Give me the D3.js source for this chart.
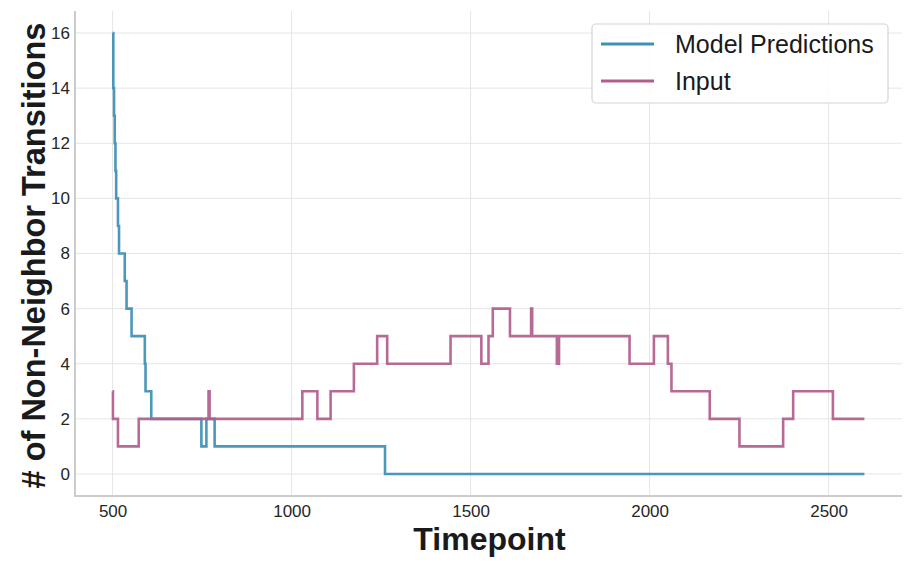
<!DOCTYPE html>
<html>
<head>
<meta charset="utf-8">
<script src="https://cdn.jsdelivr.net/npm/d3@7"></script>
<style>
  html, body { margin: 0; padding: 0; background: #ffffff; }
  svg { display: block; font-family: "Liberation Sans", Arial, sans-serif; }
</style>
</head>
<body>
<svg id="chart" width="913" height="567"></svg>
<script>
// ---- data ----
const modelT = [500, 502, 504, 506, 508, 510, 515, 518, 534, 539, 553, 590, 592, 608, 748, 762, 785, 1261, 2600];
const modelV = [16, 14, 13, 12, 11, 10, 9, 8, 7, 6, 5, 4, 3, 2, 1, 2, 1, 0, 0];
const inputT = [500, 501, 515, 573, 768, 771, 1030, 1072, 1109, 1174, 1239, 1267, 1444, 1530, 1550, 1562, 1610, 1669, 1672, 1741, 1747, 1944, 2012, 2051, 2061, 2168, 2251, 2373, 2401, 2512, 2600];
const inputV = [3, 2, 1, 2, 3, 2, 3, 2, 3, 4, 5, 4, 5, 4, 5, 6, 5, 6, 5, 4, 5, 4, 5, 4, 3, 2, 1, 2, 3, 2, 2];
const xTicks = [500, 1000, 1500, 2000, 2500];
const yTicks = [0, 2, 4, 6, 8, 10, 12, 14, 16];
const seriesNames = ["Model Predictions", "Input"];
const seriesColors = ["#3d8fb5", "#b15d8d"];

// ---- layout ----
const L = 75, R = 902, T = 11, B = 496;
const svg = d3.select("#chart");

const x = d3.scaleLinear().domain([395, 2705]).range([L, R]);
const y = d3.scaleLinear().domain([-0.8, 16.8]).range([B, T]);

// grid
const grid = svg.append("g");
grid.selectAll("line.gx").data(xTicks).join("line")
  .attr("x1", d => x(d)).attr("x2", d => x(d))
  .attr("y1", T).attr("y2", B)
  .attr("stroke", "#e5e5e5").attr("stroke-width", 1);
grid.selectAll("line.gy").data(yTicks).join("line")
  .attr("x1", L).attr("x2", R)
  .attr("y1", d => y(d)).attr("y2", d => y(d))
  .attr("stroke", "#e5e5e5").attr("stroke-width", 1);

// axes (no tick marks, only labels)
const xAxis = d3.axisBottom(x).tickValues(xTicks).tickSize(0).tickPadding(9).tickFormat(d3.format("d"));
const yAxis = d3.axisLeft(y).tickValues(yTicks).tickSize(0).tickPadding(5).tickFormat(d3.format("d"));

const gx = svg.append("g").attr("transform", `translate(0,${B})`).call(xAxis);
const gy = svg.append("g").attr("transform", `translate(${L},0)`).call(yAxis);
[gx, gy].forEach(g => {
  g.select(".domain").remove();
  g.selectAll("text").attr("font-size", 17).attr("fill", "#262626")
    .attr("font-family", "'Liberation Sans', Arial, sans-serif");
});

// spines
svg.append("line").attr("x1", L).attr("x2", L).attr("y1", T).attr("y2", B + 1)
  .attr("stroke", "#cccccc").attr("stroke-width", 2);
svg.append("line").attr("x1", L - 1).attr("x2", R).attr("y1", B).attr("y2", B)
  .attr("stroke", "#cccccc").attr("stroke-width", 2);

// lines
const line = d3.line().x(d => x(d[0])).y(d => y(d[1])).curve(d3.curveStepAfter);
const series = [
  modelT.map((t, i) => [t, modelV[i]]),
  inputT.map((t, i) => [t, inputV[i]])
];
series.forEach((s, i) => {
  svg.append("path").datum(s)
    .attr("d", line)
    .attr("fill", "none")
    .attr("stroke", seriesColors[i])
    .attr("stroke-width", 2.6)
    .attr("stroke-opacity", 0.92)
    .attr("stroke-linejoin", "miter");
});

// axis labels
svg.append("text")
  .attr("x", (L + R) / 2 + 1).attr("y", 550)
  .attr("text-anchor", "middle")
  .attr("font-size", 32).attr("font-weight", "bold").attr("fill", "#1a1a1a")
  .text("Timepoint");
svg.append("text")
  .attr("transform", `translate(45,${(T + B) / 2 + 2}) rotate(-90)`)
  .attr("text-anchor", "middle")
  .attr("font-size", 32.5).attr("font-weight", "bold").attr("fill", "#1a1a1a")
  .text("# of Non-Neighbor Transitions");

// legend
const lg = svg.append("g");
lg.append("rect").attr("x", 592).attr("y", 24).attr("width", 296).attr("height", 79)
  .attr("rx", 4).attr("fill", "#ffffff").attr("fill-opacity", 0.85)
  .attr("stroke", "#d4d4d4").attr("stroke-width", 1.2);
seriesNames.forEach((name, i) => {
  const yy = 44 + i * 37;
  lg.append("line").attr("x1", 601).attr("x2", 654).attr("y1", yy).attr("y2", yy)
    .attr("stroke", seriesColors[i]).attr("stroke-width", 3);
  lg.append("text").attr("x", 675).attr("y", yy + 9)
    .attr("font-size", 25).attr("fill", "#1a1a1a").text(name);
});
</script>
</body>
</html>
